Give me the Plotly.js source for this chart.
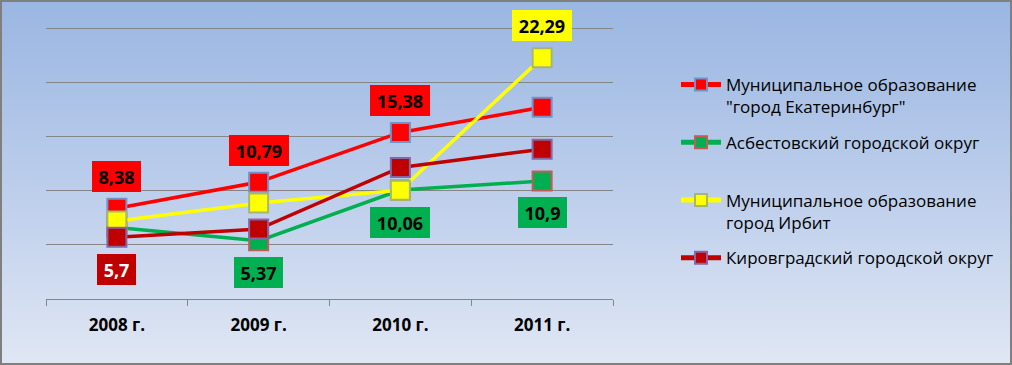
<!DOCTYPE html>
<html>
<head>
<meta charset="utf-8">
<script src="https://cdn.plot.ly/plotly-3.0.1.min.js"></script>
<style>
  html, body { margin: 0; padding: 0; }
  #wrap { position: relative; width: 1012px; height: 365px;
    background: linear-gradient(to bottom, #9ab6e2 0%, #bbcdeb 50%, #e0e7f4 100%); }
  #chart { position: absolute; left: 0; top: 0; width: 1012px; height: 365px; }
  #frame { position: absolute; left: 0; top: 0; width: 1012px; height: 365px;
    box-sizing: border-box; border: 2px solid #7f7f7f; pointer-events: none; }
</style>
</head>
<body>
<div id="wrap"><div id="chart"></div><div id="frame"></div></div>
<script>
// Categories
const years = ['2008 г.', '2009 г.', '2010 г.', '2011 г.'];

// Series values
const ekaterinburg = [8.38, 10.79, 15.38, 17.7];
const asbest = [6.6, 5.37, 10.06, 10.9];
const irbit = [7.2, 8.86, 10.05, 22.29];
const kirovgrad = [5.7, 6.46, 12.15, 13.84];

// Series names
const names = [
  'Муниципальное образование<br>"город Екатеринбург"',
  'Асбестовский городской округ<br> ',
  'Муниципальное образование<br>город Ирбит',
  'Кировградский городской округ'
];

// Which points carry a value label (index lists)
const ekbLabelIdx = [0, 1, 2];
const asbLabelIdx = [1, 2, 3];
const irbLabelIdx = [3];
const kirLabelIdx = [0];

const series = [
  {vals: ekaterinburg, color: '#ff0000', edge: '#6f94cc', labels: ekbLabelIdx, pos: 'above', txt: '#000000'},
  {vals: asbest, color: '#00b050', edge: '#c45a5a', labels: asbLabelIdx, pos: 'below', txt: '#000000'},
  {vals: irbit, color: '#ffff00', edge: '#a6b86a', labels: irbLabelIdx, pos: 'above', txt: '#000000'},
  {vals: kirovgrad, color: '#c00000', edge: '#8567a6', labels: kirLabelIdx, pos: 'below', txt: '#ffffff'}
];

const traces = series.map((s, i) => ({
  type: 'scatter',
  mode: 'lines+markers',
  x: years,
  y: s.vals,
  name: names[i],
  legendgroup: 'g' + i,
  line: {color: s.color, width: 3.5},
  marker: {symbol: 'square', size: 19, color: s.color, line: {color: s.edge, width: 2}},
  hoverinfo: 'skip'
}));

const annotations = [];
series.forEach(s => {
  s.labels.forEach(idx => {
    const t = String(s.vals[idx]).replace('.', ',');
    annotations.push({
      x: years[idx], y: s.vals[idx], xref: 'x', yref: 'y',
      text: t, showarrow: false,
      xanchor: 'center', yanchor: 'middle',
      yshift: s.pos === 'above' ? 32 : -32,
      bgcolor: s.color, borderpad: 0, borderwidth: 0,
      width: Math.round(t.length * 10.5 + 7), height: 31,
      font: {family: 'Open Sans', size: 18, weight: 700, color: s.txt}
    });
  });
});

const layout = {
  width: 1012, height: 365,
  margin: {l: 46, r: 399, t: 27, b: 66, pad: 0},
  paper_bgcolor: 'rgba(0,0,0,0)',
  plot_bgcolor: 'rgba(0,0,0,0)',
  showlegend: true,
  font: {family: 'Open Sans', color: '#000000'},
  xaxis: {
    type: 'category', range: [-0.5, 3.5],
    showgrid: false, showline: true, linecolor: '#868686', linewidth: 1,
    ticks: 'outside', tickson: 'boundaries', ticklen: 6, tickcolor: '#868686',
    ticklabelstandoff: 11,
    tickfont: {family: 'Open Sans', size: 17, weight: 700, color: '#000000'},
    fixedrange: true
  },
  yaxis: {
    range: [0, 25.12], dtick: 5, tick0: 0,
    showgrid: true, gridcolor: '#868686', gridwidth: 1,
    zeroline: false, showline: false, showticklabels: false, ticks: '',
    fixedrange: true
  },
  legend: {
    xref: 'container', yref: 'container',
    x: 676 / 1012, y: 1 - 67 / 365, xanchor: 'left', yanchor: 'top',
    bgcolor: 'rgba(0,0,0,0)', borderwidth: 0,
    valign: 'top', itemwidth: 40, itemsizing: 'constant',
    tracegroupgap: 10.5, maxheight: 330,
    font: {family: 'Open Sans', size: 17, color: '#000000'}
  },
  annotations: annotations
};

Plotly.newPlot('chart', traces, layout, {displayModeBar: false, staticPlot: true});
</script>
</body>
</html>
